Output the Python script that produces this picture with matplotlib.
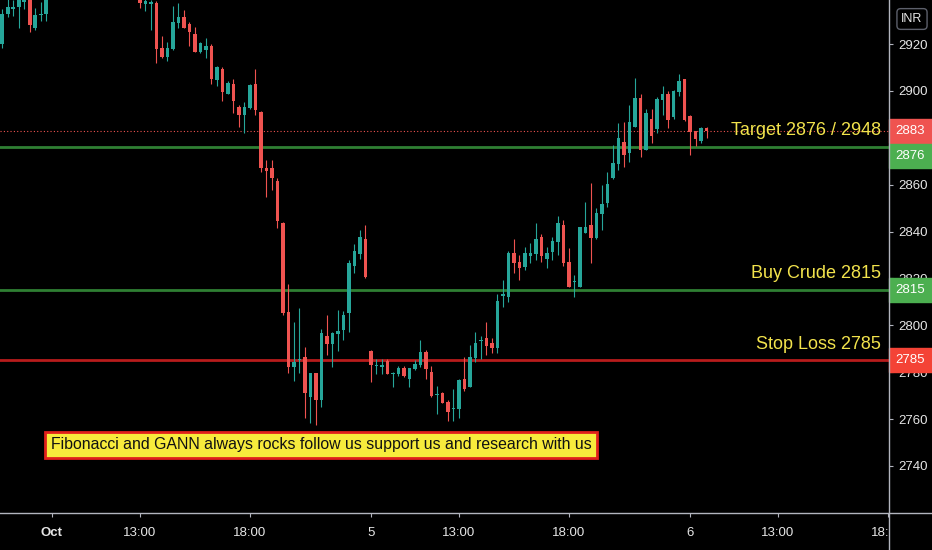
import matplotlib
matplotlib.use('Agg')
import matplotlib.pyplot as plt
from matplotlib.patches import Rectangle
from matplotlib.lines import Line2D
from matplotlib.transforms import blended_transform_factory, Bbox, TransformedBbox
import numpy as np

# 15 min bars: Oct 3 (last 9 bars), Oct 4, Oct 5 (58 bars each, 9:00-23:30), Oct 6 (4 bars)
opens = [2920, 2933, 2935, 2936, 2938, 2942, 2927, 2932.5, 2933,
         2941, 2946, 2950, 2949, 2947, 2944, 2948, 2954, 2951, 2948, 2950, 2946, 2944, 2946, 2943, 2945,
         2942, 2937, 2937.3, 2937.6, 2918.2, 2914.6, 2917.7, 2928.8, 2931.4, 2928.5, 2924.3, 2916.7,
         2917.4, 2919.3, 2904.6, 2909.2, 2898.7, 2902.9, 2893.2, 2889.7, 2892.6, 2902.9, 2891.1, 2867,
         2867, 2861.7, 2843.5, 2805.8, 2782.3, 2785, 2786.3, 2769.3, 2779.5, 2768.1, 2795.4, 2792,
         2796.3, 2798, 2805.4, 2825.3, 2830.4, 2836.7,
         2789.2, 2782.5, 2782.4, 2784.8, 2779.2, 2779.2, 2781.9, 2776.9, 2781.3, 2783.1, 2788.7, 2780.2,
         2770.2, 2771, 2767.2, 2764.2, 2764.2, 2777.1, 2773.8, 2785.9, 2793.3, 2794.4, 2792.6, 2790.4,
         2812.7, 2812.2, 2830.7, 2826.9, 2825, 2829.6, 2830.3, 2837.5, 2828.3, 2831.1, 2835.7, 2842.8,
         2826.9, 2818.3, 2816.5, 2839.5, 2842.8, 2837.1, 2847.5, 2852.3, 2862.7, 2868.8, 2878.3, 2873.6,
         2884.7, 2897.1, 2874.8, 2887.9, 2883.6, 2896.1, 2898.5, 2889, 2899.6, 2905,
         2889.3, 2882.9, 2878.6, 2884]
highs = [2935, 2939.5, 2939, 2943, 2943, 2944, 2935.5, 2938, 2945,
         2948, 2952, 2955, 2953, 2951, 2950, 2956, 2958, 2954, 2952, 2953, 2949, 2948, 2949, 2947, 2947,
         2944, 2939.5, 2939, 2938.4, 2923.4, 2921, 2936.2, 2937.4, 2934.5, 2929.3, 2927.1, 2921,
         2922.4, 2920, 2910.5, 2910.3, 2904.3, 2905, 2894, 2895.4, 2902.9, 2909.2, 2891.5, 2870.5,
         2870.5, 2862.7, 2844, 2817.6, 2801.3, 2807.2, 2790.6, 2779.8, 2779.8, 2798.3, 2804.4, 2797,
         2806.5, 2806.2, 2827.9, 2834.7, 2840.6, 2842.8,
         2789.5, 2785.5, 2785.5, 2785.5, 2780, 2782.6, 2782.6, 2781.8, 2785.2, 2793.7, 2789.5, 2782.6,
         2774.1, 2771.6, 2768.1, 2772.7, 2777, 2786.3, 2791.6, 2797.3, 2795.4, 2801.5, 2794.7, 2813.3,
         2819.3, 2831.8, 2836.8, 2830, 2833.5, 2835, 2843.5, 2838.8, 2833.3, 2837.5, 2846.6, 2844.9,
         2832.8, 2821.4, 2842, 2852.7, 2860.8, 2849.9, 2859.8, 2865.5, 2877, 2886.2, 2886.9, 2894,
         2905.4, 2898.5, 2892.1, 2892.1, 2897.5, 2902.1, 2900, 2900.2, 2907.2, 2905.3,
         2889.6, 2883, 2884.7, 2884.7]
lows = [2918.5, 2931.5, 2932, 2927, 2935, 2925, 2926, 2930, 2930,
        2940.5, 2944, 2947, 2945, 2943, 2942, 2947, 2950, 2946, 2944, 2945, 2942, 2941, 2942, 2941, 2941,
        2935.3, 2934.2, 2926, 2911.8, 2913.9, 2912.9, 2917.5, 2927, 2926.8, 2919.1, 2916.5, 2916,
        2913.9, 2902.9, 2902.1, 2895.8, 2898.5, 2890.7, 2884.7, 2881.9, 2892.4, 2889.7, 2865.5, 2854.6,
        2857.7, 2841.6, 2804.4, 2779.5, 2776.4, 2779.5, 2760.3, 2758.2, 2757.5, 2765, 2787.3, 2782.3,
        2789.2, 2793.7, 2797.3, 2822.2, 2828.2, 2820.3,
        2776, 2779.2, 2779.2, 2779, 2773.8, 2778.4, 2777.8, 2773.8, 2781, 2782.3, 2777, 2769.5,
        2762.2, 2766.8, 2759.3, 2759.3, 2760.3, 2772.1, 2773.6, 2784.4, 2785.5, 2787.3, 2788.1, 2788,
        2807.9, 2810.1, 2822.2, 2819.3, 2823.6, 2826.4, 2827.9, 2827.1, 2824.3, 2827.9, 2830, 2825.3,
        2816.3, 2812.2, 2816.3, 2839.3, 2826.4, 2837, 2840.6, 2850.6, 2862.5, 2866.2, 2867.4, 2869.8,
        2884.5, 2872, 2874.6, 2877.9, 2881.9, 2889.7, 2884, 2887.9, 2897.8, 2887,
        2872.6, 2876.5, 2877.9, 2879.8]
closes = [2933, 2936, 2936, 2940, 2940, 2928, 2932.5, 2932.8, 2941,
          2946, 2950, 2949, 2947, 2944, 2948, 2954, 2951, 2948, 2950, 2946, 2944, 2946, 2943, 2945, 2942,
          2937.7, 2938.3, 2937.6, 2917.7, 2914.6, 2918.2, 2929.3, 2931.4, 2927, 2925, 2916.7, 2920.3,
          2919.3, 2904.9, 2910.3, 2899.6, 2903.2, 2895.8, 2889.7, 2893.2, 2902.5, 2891.8, 2867.2, 2865.8,
          2862.7, 2844.5, 2805.4, 2782.3, 2784.5, 2785.3, 2771, 2779.5, 2768.1, 2796.8, 2792, 2796.6,
          2797.6, 2804.4, 2826.7, 2831.8, 2837.5, 2820.5,
          2783.1, 2783, 2782.6, 2779.2, 2779.6, 2781.9, 2778.4, 2781.6, 2783.3, 2788.5, 2781.2, 2769.8,
          2770.4, 2767, 2763.2, 2764.5, 2776.7, 2772.7, 2786.3, 2792.3, 2793.7, 2791.2, 2790.4, 2810.5,
          2813.4, 2831, 2826.4, 2824.3, 2830.7, 2830.7, 2836.8, 2829.6, 2830.7, 2836.1, 2843.8, 2826.4,
          2816.5, 2818.6, 2841.8, 2842.1, 2837.1, 2848, 2851.6, 2860.3, 2869.1, 2879.8, 2872.6, 2886.9,
          2897.1, 2874.8, 2890.4, 2880.8, 2896.4, 2898.5, 2887.6, 2900, 2904.3, 2887.6,
          2882.6, 2879.5, 2884, 2883]

time_ticks = [9, 25, 45, 67, 83, 103, 125, 141, 161]
time_labels = ['Oct', '13:00', '18:00', '5', '13:00', '18:00', '6', '13:00', '18:00']
price_ticks = [2740, 2760, 2780, 2800, 2820, 2840, 2860, 2880, 2900, 2920]

levels = [2876, 2815, 2785]
level_colors = ['#2f7f33', '#2f7f33', '#b71c1c']
label_colors = ['#4caf50', '#4caf50', '#f44336']
notes = ['Target 2876 / 2948', 'Buy Crude 2815', 'Stop Loss 2785']
last_price = 2883
banner = 'Fibonacci and GANN always rocks follow us support us and research with us'

UP = '#26a69a'
DOWN = '#ef5350'
plt.rcParams['font.family'] = ['Liberation Sans', 'DejaVu Sans']

W, H = 932, 550
fig = plt.figure(figsize=(W / 100, H / 100), dpi=100, facecolor='black')
ax = fig.add_axes([0, 37 / H, 889 / W, 513 / H], facecolor='black')
ymin, ymax = 2719.9, 2938.8
ax.set_xlim(-0.45, 161.18)
ax.set_ylim(ymin, ymax)
ppu = 513 / (ymax - ymin)  # pixels per price unit

o = np.array(opens); h = np.array(highs); l = np.array(lows); c = np.array(closes)
idx = np.arange(len(o))
cols = np.where(c >= o, UP, DOWN)
ax.vlines(idx, l, h, colors=cols, linewidth=0.8, zorder=3)
ax.bar(idx, np.maximum(np.abs(c - o), 0.45), bottom=np.minimum(o, c), width=0.72,
       color=cols, linewidth=0, zorder=3)

# levels
ax.axhline(last_price, color=DOWN, lw=0.8, ls=(0, (1, 2)), zorder=2)
for lv, lc in zip(levels, level_colors):
    ax.axhline(lv, color=lc, lw=2, zorder=2)

# notes (right aligned above the lines)
note_offsets = [7, 7, 6.6]
for txt, lv, off in zip(notes, levels, note_offsets):
    ax.text(0.991, lv + off, txt, transform=blended_transform_factory(ax.transAxes, ax.transData),
            ha='right', va='center', color='#f2e34c', fontsize=13, zorder=5)

ax.text(0.361, 0.1326, banner, transform=ax.transAxes, ha='center', va='center',
        color='#111111', fontsize=11.4, zorder=6,
        bbox=dict(boxstyle='square,pad=0.36', fc='#f7eb3c', ec='#e0201c', lw=2))

for s in ax.spines.values():
    s.set_visible(False)

# axes ticks
ax.yaxis.tick_right()
ax.set_yticks(price_ticks)
ax.tick_params(axis='y', colors='#b2b5be', labelcolor='#e6e6e6', length=3, width=0.8,
               pad=4, labelsize=9.5)
ax.set_xticks(time_ticks, time_labels)
ax.tick_params(axis='x', colors='#b2b5be', labelcolor='#e6e6e6', length=3, width=0.8,
               pad=7, labelsize=9.5)
ticks = ax.xaxis.get_major_ticks()
ticks[0].label1.set_fontweight('bold')
ticks[-1].label1.set_clip_box(TransformedBbox(Bbox([[0, 0], [889 / W, 1]]), fig.transFigure))
ticks[-1].label1.set_clip_on(True)

# price scale labels
bt = blended_transform_factory(ax.transAxes, ax.transData)
bw = 43 / 889
bh = 24 / ppu
label_vals = [last_price] + levels
label_cols = [DOWN] + label_colors
label_pos = [last_price, levels[0] - 3.8] + levels[1:]
for v, col, pos in zip(label_vals, label_cols, label_pos):
    ax.add_patch(Rectangle((1.0, pos - bh / 2), bw, bh, transform=bt, color=col,
                           clip_on=False, zorder=6))
    ax.text(1.0 + bw / 2, pos, str(v), transform=bt, ha='center', va='center',
            color='white', fontsize=9.5, clip_on=False, zorder=7)

# frame lines
fig.add_artist(Line2D([0, 1], [37 / H, 37 / H], color='#b2b5be', lw=1))
fig.add_artist(Line2D([889 / W, 889 / W], [0, 1], color='#b2b5be', lw=1))

fig.text(912 / W, 1 - 19 / H, 'INR', ha='center', va='center', color='#e6e6e6', fontsize=9,
         bbox=dict(boxstyle='round,pad=0.35,rounding_size=0.3', fc='black', ec='#5d606b', lw=1))

fig.savefig('out.png', dpi=100, facecolor='black')
